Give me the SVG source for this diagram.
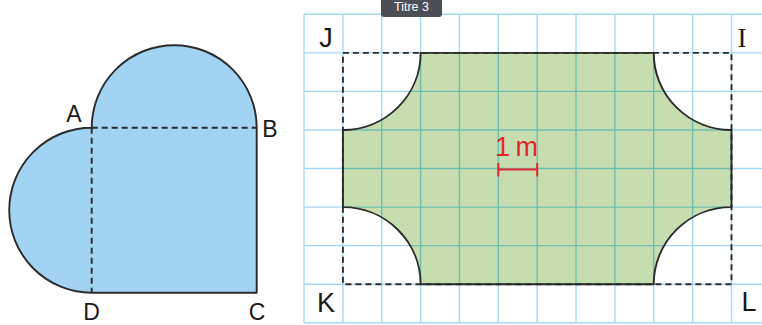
<svg xmlns="http://www.w3.org/2000/svg" width="762" height="325" viewBox="0 0 762 325">
  <style>
    .lbl { font-family: "Liberation Sans", Arial, sans-serif; fill: #1a1a1a; }
    .outline { stroke: #2b2b2b; stroke-width: 1.9; stroke-linejoin: round; }
    .dash { fill: none; stroke: #2b2b2b; stroke-width: 1.9; stroke-dasharray: 6 4; }
  </style>
  <defs>
    <path id="grid" fill="none" d="M304 14.3V322.7M342.9 14.3V322.7M381.7 14.3V322.7M420.6 14.3V322.7M459.4 14.3V322.7M498.3 14.3V322.7M537.2 14.3V322.7M576 14.3V322.7M614.9 14.3V322.7M653.7 14.3V322.7M692.6 14.3V322.7M731.5 14.3V322.7M304 14.3H762M304 52.9H762M304 91.4H762M304 130H762M304 168.5H762M304 207.1H762M304 245.6H762M304 284.2H762M304 322.7H762"/>
    <path id="greenShape" d="M420.6 52.9H653.7A77.8 77.1 0 0 0 731.5 130V207.1A77.8 77.1 0 0 0 653.7 284.2H420.6A77.8 77.1 0 0 0 342.9 207.1V130A77.8 77.1 0 0 0 420.6 52.9Z"/>
    <clipPath id="greenClip"><use href="#greenShape"/></clipPath>
  </defs>
  <rect width="762" height="325" fill="#ffffff"/>

  <!-- Left figure -->
  <g id="heart-figure">
    <path class="outline" fill="#a2d3f2" d="M91.7 127.7A82.5 82.5 0 0 1 256.7 127.7V292.7H91.7A82.5 82.5 0 0 1 91.7 127.7Z"/>
  </g>
  <g id="heart-dashes">
    <path class="dash" d="M91.7 127.7H256.7M91.7 127.7V292.7"/>
  </g>
  <g id="label-A"><text class="lbl" x="74" y="122" font-size="23" text-anchor="middle">A</text></g>
  <g id="label-B"><text class="lbl" x="270" y="137" font-size="23" text-anchor="middle">B</text></g>
  <g id="label-C"><text class="lbl" x="257" y="319.5" font-size="23" text-anchor="middle">C</text></g>
  <g id="label-D"><text class="lbl" x="91.5" y="319.5" font-size="23" text-anchor="middle">D</text></g>

  <!-- Right figure -->
  <g id="grid-paper">
    <use href="#grid" stroke="#a6d8f6" stroke-width="1.4"/>
  </g>
  <g id="green-shape">
    <use href="#greenShape" fill="#c6ddb0"/>
    <use href="#grid" stroke="#6fbfae" stroke-width="1.4" clip-path="url(#greenClip)"/>
  </g>
  <g id="rectangle-JIKL">
    <rect class="dash" x="342.9" y="52.9" width="388.6" height="231.3"/>
    <use href="#greenShape" class="outline" fill="none"/>
  </g>
  <g id="label-J"><text class="lbl" x="326" y="46.5" font-size="27" text-anchor="middle">J</text></g>
  <g id="label-I"><text x="742" y="47" font-size="27" text-anchor="middle" font-family="Liberation Serif, Times New Roman, serif" fill="#1a1a1a">I</text></g>
  <g id="label-K"><text class="lbl" x="326" y="311.5" font-size="27" text-anchor="middle">K</text></g>
  <g id="label-L"><text class="lbl" x="749" y="310.5" font-size="27" text-anchor="middle">L</text></g>

  <g id="scale">
    <text x="516" y="156" font-size="27" text-anchor="middle" font-family="Liberation Sans, Arial, sans-serif" fill="#e5262b" letter-spacing="-1">1 m</text>
    <path d="M498.3 169.5H537.2M498.3 163V176.5M537.2 163V176.5" fill="none" stroke="#e5262b" stroke-width="2"/>
  </g>

  <g id="tooltip">
    <rect x="381" y="-5" width="61" height="22" rx="3" fill="#4b4e53"/>
    <text x="411.5" y="11" font-size="12.5" text-anchor="middle" font-family="Liberation Sans, Arial, sans-serif" fill="#ffffff">Titre 3</text>
  </g>
</svg>
